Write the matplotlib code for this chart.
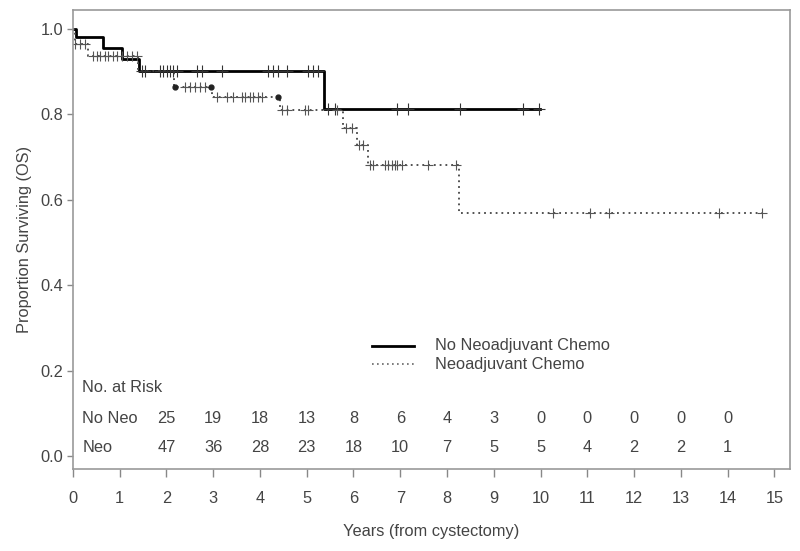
import numpy as np
import matplotlib
matplotlib.use("Agg")
import matplotlib.pyplot as plt

plt.rcParams['font.family'] = ['Liberation Sans', 'DejaVu Sans']

# Kaplan-Meier curves (step times / survival after step)
noneo_t = [0, 0.07, 0.64, 1.05, 1.41, 5.36, 9.98]
noneo_s = [1.0, 0.98, 0.956, 0.93, 0.90, 0.812, 0.812]
noneo_cens = [1.47, 1.54, 1.86, 1.92, 2.01, 2.07, 2.14, 2.22, 2.65, 2.76, 3.18,
              4.17, 4.27, 4.38, 4.57, 5.02, 5.13, 5.24, 5.45, 5.6,
              6.94, 7.16, 8.27, 9.62, 9.96]

neo_t = [0, 0.04, 0.33, 1.39, 2.16, 2.97, 4.42, 5.77, 6.07, 6.3, 8.25, 14.74]
neo_s = [1.0, 0.965, 0.937, 0.90, 0.863, 0.840, 0.810, 0.768, 0.727, 0.680, 0.568, 0.568]
neo_cens = [0.04, 0.15, 0.26, 0.43, 0.51, 0.58, 0.68, 0.75, 0.85, 0.94, 1.05,
            1.15, 1.26, 1.37, 2.39, 2.5, 2.61, 2.71, 2.82, 3.08, 3.29, 3.42,
            3.61, 3.68, 3.78, 3.85, 3.95, 4.04, 4.47, 4.57, 4.96, 5.02, 5.64,
            5.85, 5.96, 6.12, 6.2, 6.35, 6.41, 6.67, 6.73, 6.82, 6.88, 6.94,
            7.03, 7.59, 8.2, 10.26, 11.05, 11.47, 13.82, 14.74]
neo_dots = [2.18, 2.95, 4.38]

# numbers at risk
risk_years = [2, 3, 4, 5, 6, 7, 8, 9, 10, 11, 12, 13, 14]
risk_noneo = [25, 19, 18, 13, 8, 6, 4, 3, 0, 0, 0, 0, 0]
risk_neo = [47, 36, 28, 23, 18, 10, 7, 5, 5, 4, 2, 2, 1]


def surv_at(times, surv, x):
    i = np.searchsorted(times, x, side='right') - 1
    return np.array(surv)[i]


txt = '#444444'
fs = 11.8
fig = plt.figure(figsize=(8, 5.51), dpi=100)
ax = fig.add_axes([0.091, 0.149, 0.897, 0.833])

ax.step(noneo_t, noneo_s, where='post', color='black', lw=2.0)
ax.step(neo_t, neo_s, where='post', color='#444444', lw=1.3, ls=(0, (1, 2.2)))

ax.plot(noneo_cens, surv_at(noneo_t, noneo_s, noneo_cens), ls='none',
        marker='+', ms=8, mew=0.8, color='#333333')
ax.plot(neo_cens, surv_at(neo_t, neo_s, neo_cens), ls='none',
        marker='+', ms=7, mew=0.8, color='#555555')
ax.plot(neo_dots, surv_at(neo_t, neo_s, neo_dots), ls='none',
        marker='o', ms=3.5, color='#222222')

# legend drawn by hand like the original
ax.plot([6.4, 7.3], [0.258, 0.258], color='black', lw=2.0)
ax.plot([6.4, 7.3], [0.215, 0.215], color='#666666', lw=1.2, ls=(0, (1, 2)))
ax.text(7.74, 0.258, 'No Neoadjuvant Chemo', va='center', fontsize=fs, color=txt)
ax.text(7.74, 0.215, 'Neoadjuvant Chemo', va='center', fontsize=fs, color=txt)

# at-risk table
ax.text(0.2, 0.160, 'No. at Risk', va='center', fontsize=fs, color=txt)
ax.text(0.2, 0.088, 'No Neo', va='center', fontsize=fs, color=txt)
ax.text(0.2, 0.021, 'Neo', va='center', fontsize=fs, color=txt)
for x, a, b in zip(risk_years, risk_noneo, risk_neo):
    ax.text(x, 0.088, str(a), ha='center', va='center', fontsize=fs, color=txt)
    ax.text(x, 0.021, str(b), ha='center', va='center', fontsize=fs, color=txt)

ax.set_xlim(0, 15.34)
ax.set_ylim(-0.030, 1.044)
ax.set_xticks(range(0, 16))
ax.set_yticks([0.0, 0.2, 0.4, 0.6, 0.8, 1.0])
ax.set_yticklabels(['0.0', '0.2', '0.4', '0.6', '0.8', '1.0'])
ax.tick_params(colors='#888888', labelcolor=txt, labelsize=fs, width=1)
ax.tick_params(axis='x', length=6, pad=10)
ax.tick_params(axis='y', length=4, pad=3)
for s in ax.spines.values():
    s.set_color('#999999')
    s.set_linewidth(1.2)

ax.set_xlabel('Years (from cystectomy)', fontsize=fs, color=txt, labelpad=13)
ax.set_ylabel('Proportion Surviving (OS)', fontsize=fs, color=txt, labelpad=6)

fig.savefig('out.png', dpi=100)
